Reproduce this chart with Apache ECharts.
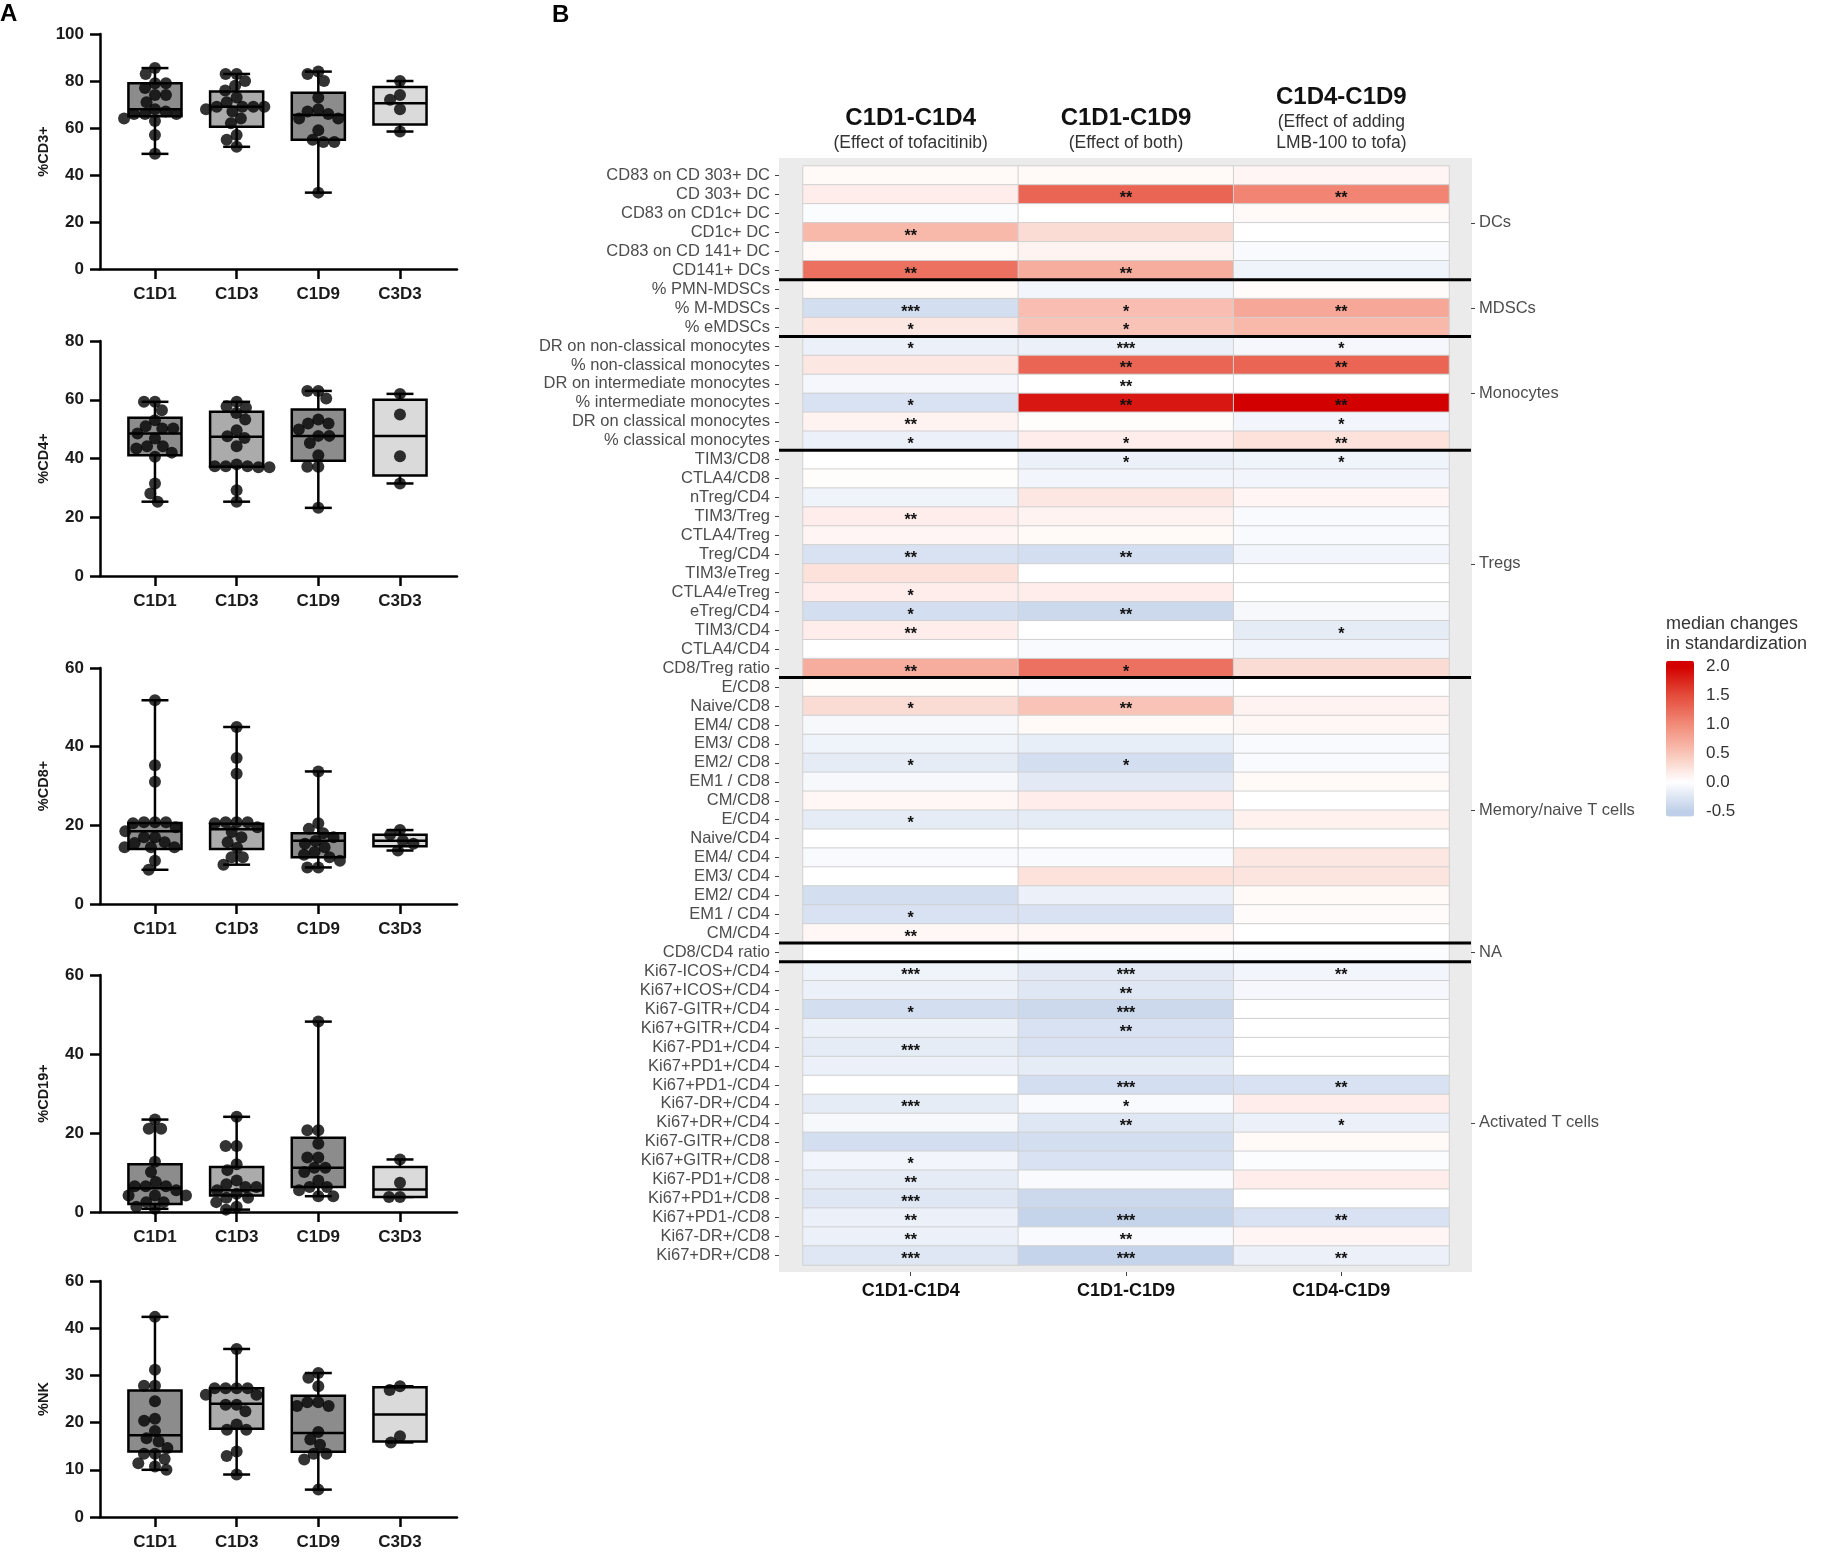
<!DOCTYPE html>
<html><head><meta charset="utf-8">
<script src="https://cdn.jsdelivr.net/npm/echarts@6/dist/echarts.min.js"></script>
<style>html,body{margin:0;padding:0;background:#fff}#c{width:1824px;height:1552px}</style>
</head><body><div id="c"></div>
<script>
// ================= Panel A: box plots =================
const boxCategories = ['C1D1', 'C1D3', 'C1D9', 'C3D3'];
const panelTitles = ['%CD3+', '%CD4+', '%CD8+', '%CD19+', '%NK'];
const panelMax = [100, 80, 60, 60, 50];
const panelInterval = [20, 20, 20, 20, 10];
const nkTickLabels = ['0', '10', '20', '30', '40', '60'];

const cd3Points = [
  [85.5, 83, 79, 79, 77, 74, 74, 71, 68, 67, 66, 66, 66, 64, 63, 57, 49],
  [83, 83, 80, 78, 76, 73, 71, 69, 69, 69, 69, 68, 67, 64, 62, 57, 55, 52],
  [84, 83, 80, 73, 68, 67, 66, 64, 64, 59, 55, 54, 54, 32.5],
  [80, 74, 72, 68, 58.5]
];
const cd3Quartiles = [[65, 68, 79], [60.5, 69, 75.5], [55, 65.5, 75], [61.5, 70.5, 77.5]];

const cd4Points = [
  [59.3, 59.3, 56.4, 53, 51, 50.2, 50.2, 48.5, 46.8, 44.2, 44.2, 43.4, 42, 40.6, 31.5, 28.1, 25.3],
  [59.3, 57.8, 57.3, 55.5, 53.3, 49.6, 47.6, 47, 44.2, 38, 37.4, 37.4, 37.4, 37, 37, 29.2, 25.3],
  [63, 63, 60.4, 53.3, 51.9, 51.9, 49.9, 47.7, 47.7, 45.3, 41.1, 37.2, 37.2, 23.2],
  [62, 55, 40.8, 31.5]
];
const cd4Quartiles = [[41.1, 48.5, 53.9], [37.2, 47.4, 55.9], [39.2, 47.7, 56.7], [34.2, 47.7, 60]];

const cd8Points = [
  [51.8, 35.3, 31.1, 20.8, 20.8, 20.8, 20.5, 19.5, 18.5, 17, 17, 15.7, 15.5, 14.4, 14.4, 14.4, 11, 8.7],
  [45, 37.1, 33.1, 20.8, 20.8, 20.8, 20.5, 19.5, 18.3, 17, 15.7, 14.3, 11.9, 11.9, 10],
  [33.7, 20.5, 19.1, 18, 17, 16, 15.3, 14.4, 13.2, 12.5, 11.9, 11, 9.3, 9.3],
  [18.8, 17.6, 16.1, 15.3, 13.6]
];
const cd8Quartiles = [[14, 18.5, 20.6], [14, 19, 20.4], [11.9, 16.1, 18], [14.7, 16.1, 17.6]];

const cd19Points = [
  [23.4, 21.1, 21.1, 12.7, 10.1, 7.6, 6.5, 6.5, 6.5, 5.5, 4.2, 4.2, 4.2, 2.5, 2.5, 1.3, 0.8],
  [24.1, 16.7, 16.7, 12.1, 10.6, 8, 7, 6.3, 6.3, 5.5, 4.6, 3.6, 3.6, 2.5, 1.3, 0.6],
  [48.2, 20.7, 20.7, 17.3, 13.8, 13.8, 11.2, 11.2, 10.1, 8, 6.3, 6.3, 5.5, 4, 4],
  [13.3, 7.4, 3.8, 3.8]
];
const cd19Quartiles = [[2, 6, 12.1], [4.2, 5.5, 11.4], [6.3, 11.2, 18.8], [3.8, 5.7, 11.4]];

const nkPoints = [
  [42.4, 31.2, 27.8, 27.8, 24.5, 20.8, 20.4, 18.2, 16.7, 16, 14.6, 13.4, 13.4, 12.3, 11.4, 10.7, 10],
  [35.6, 27.3, 27.3, 27.3, 27.3, 25.9, 25.9, 23.8, 23.8, 22.4, 19.6, 18.5, 18.5, 13.9, 12.9, 9],
  [30.5, 29.5, 27.7, 24.3, 24.3, 23.5, 23.5, 18, 16.4, 15.3, 13.4, 13.4, 12.2, 5.8],
  [27.7, 26.9, 17.1, 15.8]
];
const nkQuartiles = [[13.9, 17.3, 26.8], [18.7, 24, 27.3], [13.8, 17.8, 25.7], [16, 21.7, 27.5]];

// ================= Panel B: heatmap =================
const rowLabels = [
  'CD83 on CD 303+ DC', 'CD 303+ DC', 'CD83 on CD1c+ DC', 'CD1c+ DC', 'CD83 on CD 141+ DC', 'CD141+ DCs',
  '% PMN-MDSCs', '% M-MDSCs', '% eMDSCs',
  'DR on non-classical monocytes', '% non-classical monocytes', 'DR on intermediate monocytes', '% intermediate monocytes', 'DR on classical monocytes', '% classical monocytes',
  'TIM3/CD8', 'CTLA4/CD8', 'nTreg/CD4', 'TIM3/Treg', 'CTLA4/Treg', 'Treg/CD4', 'TIM3/eTreg', 'CTLA4/eTreg', 'eTreg/CD4', 'TIM3/CD4', 'CTLA4/CD4', 'CD8/Treg ratio',
  'E/CD8', 'Naive/CD8', 'EM4/ CD8', 'EM3/ CD8', 'EM2/ CD8', 'EM1 / CD8', 'CM/CD8', 'E/CD4', 'Naive/CD4', 'EM4/ CD4', 'EM3/ CD4', 'EM2/ CD4', 'EM1 / CD4', 'CM/CD4',
  'CD8/CD4 ratio',
  'Ki67-ICOS+/CD4', 'Ki67+ICOS+/CD4', 'Ki67-GITR+/CD4', 'Ki67+GITR+/CD4', 'Ki67-PD1+/CD4', 'Ki67+PD1+/CD4', 'Ki67+PD1-/CD4', 'Ki67-DR+/CD4', 'Ki67+DR+/CD4',
  'Ki67-GITR+/CD8', 'Ki67+GITR+/CD8', 'Ki67-PD1+/CD8', 'Ki67+PD1+/CD8', 'Ki67+PD1-/CD8', 'Ki67-DR+/CD8', 'Ki67+DR+/CD8'
];
const groupNames = ['DCs', 'MDSCs', 'Monocytes', 'Tregs', 'Memory/naive T cells', 'NA', 'Activated T cells'];
const groupSizes = [6, 3, 6, 12, 14, 1, 16];
const groupLabelRows = [3.5, 8, 12.5, 21.5, 34.5, 42, 51];

const colNames = ['C1D1-C1D4', 'C1D1-C1D9', 'C1D4-C1D9'];
const colSubtitles = ['(Effect of tofacitinib)', '(Effect of both)', '(Effect of adding\nLMB-100 to tofa)'];

const c1d4Values = [
  0.05, 0.15, -0.03, 0.6, 0.05, 1.2,
  0.05, -0.35, 0.2,
  -0.15, 0.2, -0.08, -0.3, 0.1, -0.15,
  0.0, 0.02, -0.12, 0.15, 0.08, -0.3, 0.25, 0.15, -0.35, 0.15, 0.0, 0.7,
  0.02, 0.3, -0.07, -0.12, -0.2, -0.07, 0.07, -0.2, 0.0, -0.05, 0.0, -0.35, -0.3, 0.07,
  0.0,
  -0.12, -0.15, -0.35, -0.15, -0.2, -0.15, 0.0, -0.2, -0.07, -0.35, -0.1, -0.2, -0.25, -0.15, -0.15, -0.25
];
const c1d9Values = [
  0.05, 1.3, 0.0, 0.3, 0.1, 0.7,
  -0.1, 0.55, 0.5,
  -0.15, 1.3, 0.0, 1.85, 0.02, 0.15,
  -0.15, -0.1, 0.2, 0.1, 0.05, -0.35, 0.0, 0.15, -0.4, 0.0, -0.05, 1.2,
  -0.05, 0.5, 0.05, -0.18, -0.35, -0.22, 0.15, -0.2, 0.0, -0.05, 0.25, -0.15, -0.3, 0.07,
  -0.03,
  -0.22, -0.25, -0.4, -0.3, -0.3, -0.2, -0.35, -0.05, -0.25, -0.35, -0.3, -0.05, -0.4, -0.45, -0.05, -0.45
];
const c4d9Values = [
  0.08, 1.05, 0.05, 0.0, -0.05, -0.12,
  0.03, 0.75, 0.6,
  -0.08, 1.3, 0.0, 2.0, -0.1, 0.25,
  -0.12, -0.1, 0.08, -0.05, -0.05, -0.1, 0.0, 0.0, -0.07, -0.2, -0.1, 0.3,
  0.0, 0.1, 0.07, -0.05, -0.05, 0.05, 0.0, 0.12, 0.0, 0.2, 0.22, 0.05, 0.03, 0.0,
  -0.03,
  -0.1, -0.08, 0.0, 0.0, 0.0, 0.0, -0.3, 0.15, -0.15, 0.05, -0.03, 0.15, 0.0, -0.3, 0.08, -0.15
];
const c1d4Stars = [
  '', '', '', '**', '', '**',
  '', '***', '*',
  '*', '', '', '*', '**', '*',
  '', '', '', '**', '', '**', '', '*', '*', '**', '', '**',
  '', '*', '', '', '*', '', '', '*', '', '', '', '', '*', '**',
  '',
  '***', '', '*', '', '***', '', '', '***', '', '', '*', '**', '***', '**', '**', '***'
];
const c1d9Stars = [
  '', '**', '', '', '', '**',
  '', '*', '*',
  '***', '**', '**', '**', '', '*',
  '*', '', '', '', '', '**', '', '', '**', '', '', '*',
  '', '**', '', '', '*', '', '', '', '', '', '', '', '', '',
  '',
  '***', '**', '***', '**', '', '', '***', '*', '**', '', '', '', '', '***', '**', '***'
];
const c4d9Stars = [
  '', '**', '', '', '', '',
  '', '**', '',
  '*', '**', '', '**', '*', '**',
  '*', '', '', '', '', '', '', '', '', '*', '', '',
  '', '', '', '', '', '', '', '', '', '', '', '', '', '',
  '',
  '**', '', '', '', '', '', '**', '', '*', '', '', '', '', '**', '', '**'
];
const legendTitle = 'median changes\nin standardization';
const legendTicks = [-0.5, 0, 0.5, 1, 1.5, 2];

// ================= build =================
const FONT = '"Liberation Sans", Arial, Helvetica, sans-serif';
const boxColors = ['#8c8c8c', '#ababab', '#8c8c8c', '#dadada'];
const allPoints = [cd3Points, cd4Points, cd8Points, cd19Points, nkPoints];
const allQuartiles = [cd3Quartiles, cd4Quartiles, cd8Quartiles, cd19Quartiles, nkQuartiles];

const boxTops = [34, 341, 668, 975, 1281];
const boxHeights = [235, 235, 236, 237, 236];
const boxLeft = 100, boxWidth = 357;
const xMin = 0.327, xMax = 4.698;
const pxPerX = boxWidth / (xMax - xMin);
const DOT = 12;

function swarmOffsets(values, pxPerY, d) {
  const order = values.map((v, i) => i).sort((a, b) => values[b] - values[a]);
  const placed = [];
  const off = new Array(values.length).fill(0);
  order.forEach(i => {
    const y = values[i] * pxPerY;
    const near = placed.filter(p => Math.abs(p.y - y) < d);
    const cands = [0];
    near.forEach(p => {
      const dx = Math.sqrt(d * d - (p.y - y) * (p.y - y));
      cands.push(p.x - dx, p.x + dx);
    });
    cands.sort((a, b) => (Math.abs(a) - Math.abs(b)) || (a - b));
    let x = cands.find(c => near.every(p => (c - p.x) ** 2 + (p.y - y) ** 2 >= d * d - 0.01));
    if (x === undefined) x = 0;
    placed.push({ x, y });
    off[i] = x;
  });
  return off;
}

function boxRender(params, api) {
  const x = api.value(0);
  const p = [1, 2, 3, 4, 5].map(i => api.coord([x, api.value(i)]));
  const hw = api.size([0.325, 0])[0];
  const cw = api.size([0.165, 0])[0];
  const cx = p[0][0];
  const ls = { stroke: '#000', lineWidth: 2.5 };
  return {
    type: 'group', children: [
      { type: 'line', shape: { x1: cx, y1: p[0][1], x2: cx, y2: p[4][1] }, style: ls },
      { type: 'line', shape: { x1: cx - cw, y1: p[0][1], x2: cx + cw, y2: p[0][1] }, style: ls },
      { type: 'line', shape: { x1: cx - cw, y1: p[4][1], x2: cx + cw, y2: p[4][1] }, style: ls },
      { type: 'rect', shape: { x: cx - hw, y: p[3][1], width: 2 * hw, height: p[1][1] - p[3][1] },
        style: { fill: boxColors[params.dataIndex], stroke: '#000', lineWidth: 2.5 } },
      { type: 'line', shape: { x1: cx - hw, y1: p[2][1], x2: cx + hw, y2: p[2][1] }, style: ls }
    ]
  };
}

const grids = [], xAxes = [], yAxes = [], series = [];
for (let k = 0; k < 5; k++) {
  grids.push({ left: boxLeft, top: boxTops[k], width: boxWidth, height: boxHeights[k] });
  xAxes.push({
    type: 'value', gridIndex: k, min: xMin, max: xMax, splitLine: { show: false },
    axisLine: { show: true, onZero: false, lineStyle: { color: '#000', width: 2.5 } },
    axisTick: { show: true, customValues: [1, 2, 3, 4], length: 10, lineStyle: { color: '#000', width: 2.5 } },
    axisLabel: { customValues: [1, 2, 3, 4], formatter: v => boxCategories[Math.round(v) - 1] || '',
      fontSize: 17, fontWeight: 'bold', color: '#1a1a1a', margin: 17 }
  });
  yAxes.push({
    type: 'value', gridIndex: k, min: 0, max: panelMax[k], interval: panelInterval[k],
    splitLine: { show: false },
    axisLine: { show: true, lineStyle: { color: '#000', width: 2.5 } },
    axisTick: { show: true, length: 10, lineStyle: { color: '#000', width: 2.5 } },
    axisLabel: { fontSize: 17, fontWeight: 'bold', color: '#1a1a1a', margin: 16,
      formatter: k === 4 ? (v => nkTickLabels[Math.round(v / 10)]) : (v => String(v)) },
    name: panelTitles[k], nameLocation: 'middle', nameGap: 49,
    nameTextStyle: { fontSize: 14.5, fontWeight: 'bold', color: '#1a1a1a' }
  });
  const pts = allPoints[k];
  const q = allQuartiles[k];
  const boxData = pts.map((arr, i) => [i + 1, Math.min(...arr), q[i][0], q[i][1], q[i][2], Math.max(...arr)]);
  series.push({
    type: 'custom', xAxisIndex: k, yAxisIndex: k, renderItem: boxRender, data: boxData,
    encode: { x: 0, y: [1, 2, 3, 4, 5] }, z: 2, silent: true
  });
  const pxPerY = boxHeights[k] / panelMax[k];
  const dots = [];
  pts.forEach((arr, i) => {
    const offs = swarmOffsets(arr, pxPerY, DOT - 1);
    arr.forEach((v, j) => dots.push([i + 1 + offs[j] / pxPerX, v]));
  });
  series.push({
    type: 'scatter', xAxisIndex: k, yAxisIndex: k, data: dots, symbolSize: DOT,
    itemStyle: { color: '#000' }, z: 3, silent: true
  });
}

// legend scale geometry
const legMin = -0.6, legMax = 2.1;
const legPxPerUnit = 57.7;
const legTopPx = 666.6 - (legMax - 2) * legPxPerUnit;
const legHeight = (legMax - legMin) * legPxPerUnit;

// heatmap grid (index 5) and legend grid (index 6)
grids.push({ left: 803, top: 166, width: 646, height: 1099 });
grids.push({ left: 1666, top: legTopPx, width: 28, height: legHeight });

xAxes.push({
  type: 'category', gridIndex: 5, data: colNames, position: 'bottom', offset: 7,
  axisLine: { show: false }, splitLine: { show: false },
  axisTick: { show: true, alignWithLabel: true, length: 4, lineStyle: { color: '#444' } },
  axisLabel: { fontSize: 18, fontWeight: 'bold', color: '#111', margin: 10, interval: 0 }
});
xAxes.push({
  type: 'category', gridIndex: 5, data: colNames, position: 'top', offset: 8,
  axisLine: { show: false }, axisTick: { show: false }, splitLine: { show: false },
  axisLabel: {
    interval: 0, margin: 4,
    formatter: (v, i) => '{t|' + v + '}\n' + colSubtitles[i].split('\n').map(s => '{s|' + s + '}').join('\n'),
    rich: {
      t: { fontSize: 24, fontWeight: 'bold', color: '#111', lineHeight: 29, fontFamily: FONT },
      s: { fontSize: 17.5, color: '#333', lineHeight: 21, fontFamily: FONT }
    }
  }
});
xAxes.push({ type: 'value', gridIndex: 6, show: false, min: 0, max: 1 });

yAxes.push({
  type: 'category', gridIndex: 5, data: rowLabels, inverse: true, offset: 24,
  axisLine: { show: false }, splitLine: { show: false },
  axisTick: { show: true, alignWithLabel: true, length: 4, lineStyle: { color: '#444' } },
  axisLabel: { fontSize: 16.5, color: '#4d4d4d', margin: 9, interval: 0 }
});
const separators = [];
{
  let start = 1;
  groupSizes.forEach((n, i) => {
    start += n;
    if (i < groupSizes.length - 1) separators.push([0, start - 0.5]);
  });
}
yAxes.push({
  type: 'value', gridIndex: 5, min: 0.5, max: 58.5, inverse: true, position: 'right', offset: 22,
  axisLine: { show: false }, splitLine: { show: false },
  axisTick: { show: true, customValues: groupLabelRows, length: 4, lineStyle: { color: '#444' } },
  axisLabel: {
    customValues: groupLabelRows, fontSize: 16.5, color: '#4d4d4d', margin: 8,
    formatter: v => { const i = groupLabelRows.findIndex(c => Math.abs(c - v) < 1e-6); return i >= 0 ? groupNames[i] : ''; }
  }
});
yAxes.push({
  type: 'value', gridIndex: 6, min: legMin, max: legMax, position: 'right', z: 10,
  axisLine: { show: false }, splitLine: { show: false },
  axisTick: { show: true, inside: true, customValues: legendTicks, length: 6, lineStyle: { color: '#fff', width: 1 } },
  axisLabel: { customValues: legendTicks, fontSize: 17, color: '#333', margin: 12, formatter: v => v.toFixed(1) }
});

const colValues = [c1d4Values, c1d9Values, c4d9Values];
const colStars = [c1d4Stars, c1d9Stars, c4d9Stars];
const heatData = [];
colValues.forEach((arr, ci) => arr.forEach((v, ri) => heatData.push([ci, ri, v, colStars[ci][ri]])));

// colour ramp: anchor colours at -0.5, 0, 0.5, 1, 1.5, 2 (extrapolated to legend range)
const rampVals = [-0.5, 0, 0.5, 1, 1.5, 2];
const rampCols = ['#bfcfe9', '#ffffff', '#f9c4b7', '#f28a78', '#e44c3b', '#d30000'];
function hex2rgb(h) { return [1, 3, 5].map(i => parseInt(h.substr(i, 2), 16)); }
function rampAt(v) {
  v = Math.max(rampVals[0], Math.min(rampVals[rampVals.length - 1], v));
  for (let i = 0; i < rampVals.length - 1; i++) {
    if (v <= rampVals[i + 1]) {
      const t = (v - rampVals[i]) / (rampVals[i + 1] - rampVals[i]);
      const a = hex2rgb(rampCols[i]), b = hex2rgb(rampCols[i + 1]);
      return 'rgb(' + a.map((c, j) => Math.round(c + (b[j] - c) * t)).join(',') + ')';
    }
  }
  return rampCols[rampCols.length - 1];
}
const rampStops = [];
for (let i = 0; i <= 27; i++) rampStops.push(rampAt(legMin + i * 0.1));

const heatIndex = series.length;
series.push({
  type: 'heatmap', xAxisIndex: 5, yAxisIndex: 5, data: heatData, silent: true,
  itemStyle: { borderColor: '#d0d0d0', borderWidth: 1 },
  label: { show: true, formatter: p => p.data[3], fontSize: 16, fontWeight: 'bold', color: '#111', offset: [0, 4] },
  z: 2
});
series.push({
  type: 'custom', xAxisIndex: 5, yAxisIndex: 6, data: separators, clip: false, silent: true, z: 5,
  encode: { x: 0, y: 1 },
  renderItem: (params, api) => {
    const y = api.coord([0, api.value(1)])[1];
    const cs = params.coordSys;
    return { type: 'line', shape: { x1: cs.x - 24, y1: y, x2: cs.x + cs.width + 22, y2: y },
      style: { stroke: '#000', lineWidth: 3 } };
  }
});

const option = {
  animation: false,
  backgroundColor: '#fff',
  textStyle: { fontFamily: FONT },
  title: [
    { text: 'A', left: 0, top: 2, padding: 0, textStyle: { fontSize: 24, fontWeight: 'bold', color: '#000', fontFamily: FONT } },
    { text: 'B', left: 552, top: 3, padding: 0, textStyle: { fontSize: 24, fontWeight: 'bold', color: '#000', fontFamily: FONT } },
    { text: legendTitle, left: 1666, top: 614, padding: 0,
      textStyle: { fontSize: 18, fontWeight: 'normal', color: '#333', lineHeight: 20, fontFamily: FONT } }
  ],
  graphic: [
    { type: 'rect', z: -1, silent: true, shape: { x: 779, y: 158, width: 693, height: 1114 }, style: { fill: '#ebebeb' } }
  ],
  grid: grids,
  xAxis: xAxes,
  yAxis: yAxes,
  visualMap: [{
    type: 'continuous', seriesIndex: heatIndex, dimension: 2, min: legMin, max: legMax,
    left: 1666, top: legTopPx, itemWidth: 28, itemHeight: legHeight, padding: 0,
    calculable: false, hoverLink: false, orient: 'vertical',
    inRange: { color: rampStops }
  }],
  series: series
};

const chart = echarts.init(document.getElementById('c'), null, { renderer: 'canvas' });
chart.setOption(option);
</script>
</body></html>
